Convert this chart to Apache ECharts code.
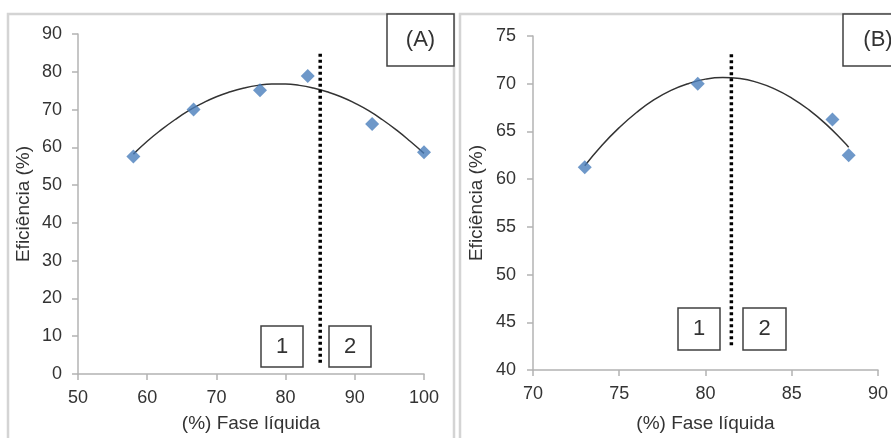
<!DOCTYPE html>
<html>
<head>
<meta charset="utf-8">
<script src="https://cdn.jsdelivr.net/npm/echarts@6/dist/echarts.min.js"></script>
<style>
html,body{margin:0;padding:0;background:#fff;}
#chart{width:891px;height:438px;}
</style>
</head>
<body>
<div id="chart"></div>
<script>
// Panel A data
var xTicksA = [50, 60, 70, 80, 90, 100];
var yTicksA = [0, 10, 20, 30, 40, 50, 60, 70, 80, 90];
var pointsA_x = [58.0, 66.7, 76.3, 83.2, 92.5, 100.0];
var pointsA_y = [57.6, 70.0, 75.1, 78.9, 66.2, 58.7];
var trendA_x = [58, 60, 62, 64, 66, 68, 70, 72, 74, 76, 78, 80, 82, 84, 86, 88, 90, 92, 94, 96, 98, 100];
var trendA_y = [58.2, 61.6, 64.6, 67.3, 69.7, 71.7, 73.4, 74.7, 75.7, 76.4, 76.76, 76.76, 76.4, 75.7, 74.7, 73.4, 71.7, 69.7, 67.3, 64.6, 61.6, 58.4];
var dividerA_x = [85, 85];
var dividerA_y = [3, 85];

// Panel B data
var xTicksB = [70, 75, 80, 85, 90];
var yTicksB = [40, 45, 50, 55, 60, 65, 70, 75];
var pointsB_x = [73.0, 79.55, 87.36, 88.3];
var pointsB_y = [61.25, 70.0, 66.26, 62.5];
var trendB_x = [73, 74, 75, 76, 77, 78, 79, 80, 81, 82, 83, 84, 85, 86, 87, 88, 88.3];
var trendB_y = [61.4, 63.55, 65.4, 66.98, 68.3, 69.3, 70.0, 70.48, 70.65, 70.54, 70.14, 69.46, 68.5, 67.26, 65.74, 63.94, 63.35];
var dividerB_x = [81.5, 81.5];
var dividerB_y = [42.6, 73.2];

var xTitle = '(%) Fase líquida';
var yTitle = 'Eficiência (%)';

function zip(a, b) { return a.map(function (v, i) { return [v, b[i]]; }); }

var txt = '#333333';
var axisCol = '#b3b3b3';
var font = '"Liberation Sans", Arial, sans-serif';

function xAxis(idx, ticks, gap, margin) {
  return {
    type: 'value', gridIndex: idx,
    min: ticks[0], max: ticks[ticks.length - 1], interval: ticks[1] - ticks[0],
    name: xTitle, nameLocation: 'middle', nameGap: gap,
    nameTextStyle: { color: txt, fontSize: 19, fontFamily: font },
    axisLine: { show: true, onZero: false, lineStyle: { color: axisCol, width: 1.5 } },
    axisTick: { show: true, length: 6, lineStyle: { color: axisCol, width: 1.5 } },
    axisLabel: { color: txt, fontSize: 18, fontFamily: font, margin: margin },
    splitLine: { show: false }
  };
}
function yAxis(idx, ticks, gap, margin) {
  return {
    type: 'value', gridIndex: idx,
    min: ticks[0], max: ticks[ticks.length - 1], interval: ticks[1] - ticks[0],
    name: yTitle, nameLocation: 'middle', nameGap: gap,
    nameTextStyle: { color: txt, fontSize: 19, fontFamily: font },
    axisLine: { show: true, onZero: false, lineStyle: { color: axisCol, width: 1.5 } },
    axisTick: { show: true, length: 6, lineStyle: { color: axisCol, width: 1.5 } },
    axisLabel: { color: txt, fontSize: 18, fontFamily: font, margin: margin },
    splitLine: { show: false }
  };
}

function box(x, y, w, h, label, size) {
  return {
    type: 'group', children: [
      { type: 'rect', shape: { x: x, y: y, width: w, height: h },
        style: { fill: '#fff', stroke: '#404040', lineWidth: 1.5 }, z: 10 },
      { type: 'text', x: x + w / 2, y: y + h / 2,
        style: { text: label, fill: txt, fontSize: size, fontFamily: font, align: 'center', verticalAlign: 'middle' }, z: 11 }
    ]
  };
}

var chart = echarts.init(document.getElementById('chart'), null, { renderer: 'canvas' });
chart.setOption({
  backgroundColor: '#fff',
  animation: false,
  grid: [
    { left: 78, top: 34, width: 346, height: 345 },
    { left: 533, top: 36, width: 349, height: 337 }
  ],
  xAxis: [xAxis(0, xTicksA, 40, 15), xAxis(1, xTicksB, 44, 15)],
  yAxis: [yAxis(0, yTicksA, 45, 16), yAxis(1, yTicksB, 47, 17)],
  graphic: [
    { type: 'rect', shape: { x: 8, y: 14, width: 446, height: 440 }, style: { fill: 'none', stroke: '#d4d4d4', lineWidth: 2.5 }, z: -1 },
    { type: 'rect', shape: { x: 460, y: 14, width: 460, height: 440 }, style: { fill: 'none', stroke: '#d4d4d4', lineWidth: 2.5 }, z: -1 },
    box(387, 14, 67, 52, '(A)', 22),
    box(843, 14, 70, 52, '(B)', 22),
    box(261, 326, 42, 41, '1', 22),
    box(329, 326, 42, 41, '2', 22),
    box(678, 308, 42, 42, '1', 22),
    box(743, 308, 43, 42, '2', 22)
  ],
  series: [
    { type: 'line', xAxisIndex: 0, yAxisIndex: 0, data: zip(trendA_x, trendA_y), smooth: true,
      showSymbol: false, lineStyle: { color: '#333', width: 1.5 }, z: 2 },
    { type: 'scatter', xAxisIndex: 0, yAxisIndex: 0, data: zip(pointsA_x, pointsA_y),
      symbol: 'diamond', symbolSize: 14, itemStyle: { color: '#4a7ebb' }, z: 3 },
    { type: 'line', xAxisIndex: 0, yAxisIndex: 0, data: zip(dividerA_x, dividerA_y),
      showSymbol: false, lineStyle: { color: '#000', width: 3.5, type: [3, 3] }, z: 4 },
    { type: 'line', xAxisIndex: 1, yAxisIndex: 1, data: zip(trendB_x, trendB_y), smooth: true,
      showSymbol: false, lineStyle: { color: '#333', width: 1.5 }, z: 2 },
    { type: 'scatter', xAxisIndex: 1, yAxisIndex: 1, data: zip(pointsB_x, pointsB_y),
      symbol: 'diamond', symbolSize: 14, itemStyle: { color: '#4a7ebb' }, z: 3 },
    { type: 'line', xAxisIndex: 1, yAxisIndex: 1, data: zip(dividerB_x, dividerB_y),
      showSymbol: false, lineStyle: { color: '#000', width: 3.5, type: [3, 3] }, z: 4 }
  ]
});
</script>
</body>
</html>
